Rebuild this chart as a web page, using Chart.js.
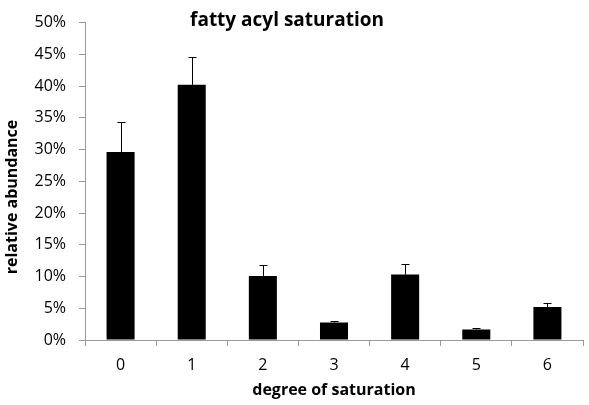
<!DOCTYPE html>
<html>
<head>
<meta charset="utf-8">
<script src="https://cdn.jsdelivr.net/npm/chart.js@4"></script>
<style>
  body { margin: 0; background: #fff; }
  #wrap { width: 589px; height: 405px; }
</style>
</head>
<body>
<div id="wrap"><canvas id="grafico" width="589" height="405"></canvas></div>
<script>
// datos (porcentaje)
const categorias = ['0', '1', '2', '3', '4', '5', '6'];
const abundancia = [29.6, 40.2, 10.1, 2.75, 10.3, 1.65, 5.2];
const errorSup = [4.8, 4.4, 1.7, 0.3, 1.7, 0.25, 0.7];
const ticksY = [0, 5, 10, 15, 20, 25, 30, 35, 40, 45, 50];

const fuente = '"Open Sans", Lato, sans-serif';

// barras de error (solo hacia arriba)
const barrasError = {
  id: 'barrasError',
  afterDatasetsDraw(chart) {
    const ctx = chart.ctx;
    const x = chart.scales.x, y = chart.scales.y;
    ctx.save();
    ctx.strokeStyle = '#000';
    ctx.lineWidth = 1;
    abundancia.forEach(function (v, i) {
      const px = Math.round(x.getPixelForValue(i)) + 0.5;
      const y0 = y.getPixelForValue(v);
      const y1 = Math.round(y.getPixelForValue(v + errorSup[i])) + 0.5;
      ctx.beginPath();
      ctx.moveTo(px, y0);
      ctx.lineTo(px, y1);
      ctx.moveTo(px - 4, y1);
      ctx.lineTo(px + 4, y1);
      ctx.stroke();
    });
    ctx.restore();
  }
};

// titulo dentro del area del grafico y titulo del eje y
const textos = {
  id: 'textos',
  afterDraw(chart) {
    const ctx = chart.ctx;
    ctx.save();
    ctx.fillStyle = '#000';
    ctx.textAlign = 'center';
    ctx.textBaseline = 'middle';
    ctx.font = 'bold 19px ' + fuente;
    ctx.fillText('fatty acyl saturation', 287, 21);
    ctx.translate(12, 197);
    ctx.rotate(-Math.PI / 2);
    ctx.font = 'bold 16px ' + fuente;
    ctx.fillText('relative abundance', 0, 0);
    ctx.restore();
  }
};

const ctx = document.getElementById('grafico').getContext('2d');
new Chart(ctx, {
  type: 'bar',
  data: {
    labels: categorias,
    datasets: [{
      data: abundancia,
      backgroundColor: '#000',
      borderWidth: 0,
      barPercentage: 0.394,
      categoryPercentage: 1
    }]
  },
  options: {
    responsive: false,
    animation: false,
    layout: { padding: { top: 17, right: 6, left: 20, bottom: 0 } },
    plugins: {
      legend: { display: false },
      tooltip: { enabled: false }
    },
    scales: {
      x: {
        afterFit: function (axis) { axis.height = 65; },
        grid: { drawOnChartArea: false, color: '#999', tickLength: 6, offset: true },
        border: { color: '#999' },
        ticks: { color: '#000', font: { family: fuente, size: 16 }, padding: 10 },
        title: { display: true, text: 'degree of saturation', color: '#000', font: { family: fuente, size: 16, weight: 'bold' }, padding: { top: 0, bottom: 5 } }
      },
      y: {
        min: 0,
        max: 50,
        afterFit: function (axis) { axis.width = 65; },
        afterBuildTicks: function (axis) { axis.ticks = ticksY.map(function (v) { return { value: v }; }); },
        grid: { drawOnChartArea: false, color: '#999', tickLength: 6 },
        border: { color: '#999' },
        ticks: { color: '#000', font: { family: fuente, size: 16 }, padding: 13, callback: function (v) { return v + '%'; } }
      }
    }
  },
  plugins: [barrasError, textos]
});
</script>
</body>
</html>
